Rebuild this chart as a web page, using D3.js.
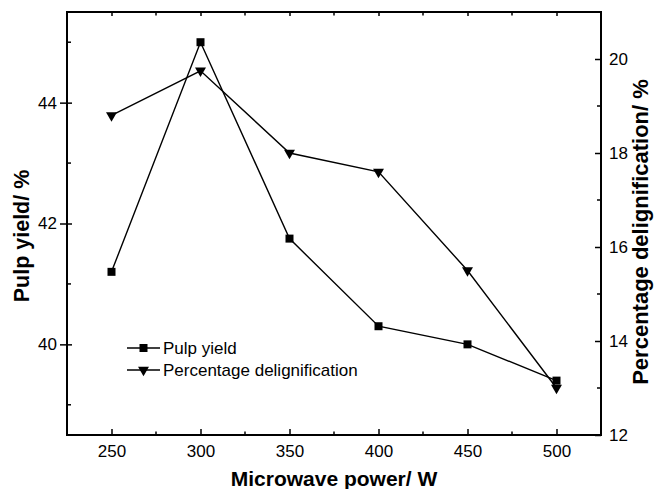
<!DOCTYPE html>
<html>
<head>
<meta charset="utf-8">
<script src="https://cdn.jsdelivr.net/npm/d3@7"></script>
<style>
html,body{margin:0;padding:0;background:#fff;}
svg{display:block;font-family:"Liberation Sans",Arial,sans-serif;}
</style>
</head>
<body>
<svg id="chart" width="654" height="489"></svg>
<script>
const power = [250, 300, 350, 400, 450, 500];
const pulpYield = [41.2, 45.0, 41.75, 40.3, 40.0, 39.4];
const delignification = [18.8, 19.75, 18.0, 17.6, 15.5, 13.0];
const xTicks = [250, 300, 350, 400, 450, 500];
const leftTicks = [40, 42, 44];
const rightTicks = [12, 14, 16, 18, 20];
const seriesNames = ["Pulp yield", "Percentage delignification"];

(function () {
const svg = d3.select("#chart");
const L = 67, R = 601, T = 12, B = 435;

const x = d3.scaleLinear().domain([225, 525]).range([L, R]);
const yL = d3.scaleLinear().domain([38.5, 45.5]).range([B, T]);
const yR = d3.scaleLinear().domain([12, 21]).range([B, T]);

const xMinor = d3.range(275, 525, 50);
const leftMinor = [39, 41, 43, 45];
const rightMinor = [13, 15, 17, 19, 21];

const g = svg.append("g");

// Bottom axis
const axB = g.append("g").attr("transform", `translate(0,${B})`)
  .call(d3.axisBottom(x).tickValues(xTicks).tickSize(0).tickPadding(10).tickFormat(d3.format("d")));
axB.selectAll(".tick").append("line").attr("y1", 0).attr("y2", -6).attr("stroke", "#000").attr("stroke-width", 1.5);
axB.append("g").selectAll("line").data(xMinor).join("line")
  .attr("x1", d => x(d)).attr("x2", d => x(d)).attr("y1", 0).attr("y2", -3.5)
  .attr("stroke", "#000").attr("stroke-width", 1.5);

// Top axis
const axT = g.append("g").attr("transform", `translate(0,${T})`)
  .call(d3.axisTop(x).tickValues(xTicks).tickSize(0).tickFormat(""));
axT.selectAll(".tick").append("line").attr("y1", 0).attr("y2", 4).attr("stroke", "#000").attr("stroke-width", 1.5);
axT.append("g").selectAll("line").data(xMinor).join("line")
  .attr("x1", d => x(d)).attr("x2", d => x(d)).attr("y1", 0).attr("y2", 3.5)
  .attr("stroke", "#000").attr("stroke-width", 1.5);

// Left axis
const axL = g.append("g").attr("transform", `translate(${L},0)`)
  .call(d3.axisLeft(yL).tickValues(leftTicks).tickSize(0).tickPadding(10).tickFormat(d3.format("d")));
axL.selectAll(".tick").append("line").attr("x1", -7).attr("x2", 5).attr("stroke", "#000").attr("stroke-width", 1.5);
axL.append("g").selectAll("line").data(leftMinor).join("line")
  .attr("y1", d => yL(d)).attr("y2", d => yL(d)).attr("x1", 0).attr("x2", 4)
  .attr("stroke", "#000").attr("stroke-width", 1.5);

// Right axis
const axR = g.append("g").attr("transform", `translate(${R},0)`)
  .call(d3.axisRight(yR).tickValues(rightTicks).tickSize(0).tickPadding(8).tickFormat(d3.format("d")));
axR.selectAll(".tick").append("line").attr("x1", 0).attr("x2", -6).attr("stroke", "#000").attr("stroke-width", 1.5);
axR.append("g").selectAll("line").data(rightMinor).join("line")
  .attr("y1", d => yR(d)).attr("y2", d => yR(d)).attr("x1", 0).attr("x2", -4)
  .attr("stroke", "#000").attr("stroke-width", 1.5);

g.selectAll(".domain").remove();
g.selectAll(".tick text").attr("font-size", 17).attr("fill", "#000")
  .attr("font-family", '"Liberation Sans", Arial, sans-serif');

// Frame
g.append("rect").attr("x", L).attr("y", T).attr("width", R - L).attr("height", B - T)
  .attr("fill", "none").attr("stroke", "#000").attr("stroke-width", 2);

// Series
const lineL = d3.line().x((d, i) => x(power[i])).y(d => yL(d));
const lineR = d3.line().x((d, i) => x(power[i])).y(d => yR(d));
g.append("path").datum(pulpYield).attr("d", lineL).attr("fill", "none").attr("stroke", "#000").attr("stroke-width", 1.4);
g.append("path").datum(delignification).attr("d", lineR).attr("fill", "none").attr("stroke", "#000").attr("stroke-width", 1.4);

const sq = d3.symbol().type(d3.symbolSquare).size(64);
const tri = d3.symbol().type(d3.symbolTriangle).size(52);
g.append("g").selectAll("path").data(pulpYield).join("path")
  .attr("d", sq).attr("transform", (d, i) => `translate(${x(power[i])},${yL(d)})`).attr("fill", "#000");
g.append("g").selectAll("path").data(delignification).join("path")
  .attr("d", tri).attr("transform", (d, i) => `translate(${x(power[i])},${yR(d)}) rotate(180)`).attr("fill", "#000");

// Legend
const leg = g.append("g");
const legRows = [{name: seriesNames[0], sym: sq, rot: 0, y: 348}, {name: seriesNames[1], sym: tri, rot: 180, y: 370}];
legRows.forEach(r => {
  leg.append("line").attr("x1", 127).attr("x2", 160).attr("y1", r.y).attr("y2", r.y).attr("stroke", "#000").attr("stroke-width", 1.4);
  leg.append("path").attr("d", r.sym).attr("transform", `translate(143.5,${r.y}) rotate(${r.rot})`).attr("fill", "#000");
  leg.append("text").attr("x", 163).attr("y", r.y).attr("dy", "0.35em").attr("font-size", 17).text(r.name);
});

// Axis titles
g.append("text").attr("x", (L + R) / 2).attr("y", 486).attr("text-anchor", "middle")
  .attr("font-size", 21).attr("font-weight", "bold").text("Microwave power/ W");
g.append("text").attr("transform", `translate(29,236) rotate(-90)`).attr("text-anchor", "middle")
  .attr("font-size", 21.5).attr("font-weight", "bold").text("Pulp yield/ %");
g.append("text").attr("transform", `translate(648,232) rotate(-90)`).attr("text-anchor", "middle")
  .attr("font-size", 22).attr("font-weight", "bold").text("Percentage delignification/ %");
})();
</script>
</body>
</html>
